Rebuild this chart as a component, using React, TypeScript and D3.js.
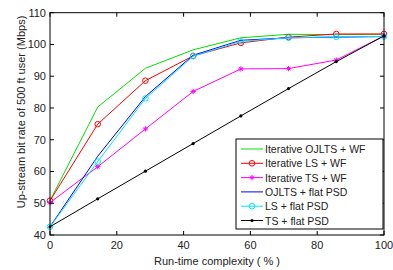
import * as d3 from 'd3';
import React, { useEffect, useRef } from 'react';

const complexity = [0, 14.29, 28.57, 42.86, 57.14, 71.43, 85.71, 100];
const ojltsWf = [50.8, 80.3, 92.5, 98.3, 102.1, 103.2, 103.1, 103.2];
const lsWf = [50.8, 74.9, 88.6, 96.4, 100.5, 102.3, 103.3, 103.3];
const tsWf = [50.2, 61.5, 73.4, 85.2, 92.3, 92.4, 95.1, 102.7];
const ojltsFlat = [42.6, 64.8, 83.6, 96.6, 101.3, 102.1, 102.3, 102.5];
const lsFlat = [42.6, 63.1, 83.0, 96.3, 101.0, 102.1, 102.4, 102.5];
const tsFlat = [42.6, 51.4, 60.1, 68.8, 77.5, 86.1, 94.6, 102.7];

const seriesNames = [
  'Iterative OJLTS + WF',
  'Iterative LS + WF',
  'Iterative TS + WF',
  'OJLTS + flat PSD',
  'LS + flat PSD',
  'TS + flat PSD',
];
const seriesColors = ['#00e000', '#ff0000', '#ff00ff', '#0000ff', '#00e5ff', '#000000'];
const seriesMarkers = ['none', 'circle', 'star', 'none', 'circle', 'dot'];
const xTicks = [0, 20, 40, 60, 80, 100];
const yTicks = [40, 50, 60, 70, 80, 90, 100, 110];

const allValues = [ojltsWf, lsWf, tsWf, ojltsFlat, lsFlat, tsFlat];

export default function App() {
  const ref = useRef<SVGSVGElement>(null);

  useEffect(() => {
    const svg = d3.select(ref.current);
    svg.selectAll('*').remove();

    const left = 50;
    const right = 384;
    const top = 12.7;
    const bottom = 235;
    const font = 'Liberation Sans, Arial, Helvetica, sans-serif';

    const x = d3.scaleLinear().domain([0, 100]).range([left, right]);
    const y = d3.scaleLinear().domain([40, 110]).range([bottom, top]);

    const line = d3
      .line<number>()
      .x((_, i) => x(complexity[i]))
      .y((d) => y(d));

    const drawMarker = (g: d3.Selection<SVGGElement, unknown, null, undefined>, kind: string, cx: number, cy: number, color: string) => {
      if (kind === 'circle') {
        g.append('circle').attr('cx', cx).attr('cy', cy).attr('r', 2.8).attr('fill', 'none').attr('stroke', color).attr('stroke-width', 1);
      } else if (kind === 'dot') {
        g.append('circle').attr('cx', cx).attr('cy', cy).attr('r', 1.6).attr('fill', color);
      } else if (kind === 'star') {
        const s = 2.6;
        const p = `M${cx - s},${cy}L${cx + s},${cy}M${cx},${cy - s}L${cx},${cy + s}M${cx - s * 0.7},${cy - s * 0.7}L${cx + s * 0.7},${cy + s * 0.7}M${cx - s * 0.7},${cy + s * 0.7}L${cx + s * 0.7},${cy - s * 0.7}`;
        g.append('path').attr('d', p).attr('stroke', color).attr('stroke-width', 1).attr('fill', 'none');
      }
    };

    // series lines
    const plot = svg.append('g');
    allValues.forEach((vals, si) => {
      plot
        .append('path')
        .datum(vals)
        .attr('d', line)
        .attr('fill', 'none')
        .attr('stroke', seriesColors[si])
        .attr('stroke-width', 1);
      vals.forEach((v, i) => drawMarker(plot, seriesMarkers[si], x(complexity[i]), y(v), seriesColors[si]));
    });

    // box + ticks
    const axes = svg.append('g').attr('stroke', '#000').attr('stroke-width', 1);
    axes
      .append('rect')
      .attr('x', left)
      .attr('y', top)
      .attr('width', right - left)
      .attr('height', bottom - top)
      .attr('fill', 'none');
    const tl = 4;
    xTicks.forEach((t) => {
      axes.append('line').attr('x1', x(t)).attr('x2', x(t)).attr('y1', bottom).attr('y2', bottom - tl);
      axes.append('line').attr('x1', x(t)).attr('x2', x(t)).attr('y1', top).attr('y2', top + tl);
    });
    yTicks.forEach((t) => {
      axes.append('line').attr('x1', left).attr('x2', left + tl).attr('y1', y(t)).attr('y2', y(t));
      axes.append('line').attr('x1', right).attr('x2', right - tl).attr('y1', y(t)).attr('y2', y(t));
    });

    const labels = svg.append('g').attr('font-family', font).attr('font-size', 11).attr('fill', '#222');
    xTicks.forEach((t) => {
      labels.append('text').attr('x', x(t)).attr('y', 249).attr('text-anchor', 'middle').text(t);
    });
    yTicks.forEach((t) => {
      labels.append('text').attr('x', 46).attr('y', y(t) + 4).attr('text-anchor', 'end').text(t);
    });
    labels.append('text').attr('x', 217).attr('y', 265).attr('text-anchor', 'middle').text('Run-time complexity ( % )');
    labels
      .append('text')
      .attr('transform', 'translate(25,112) rotate(-90)')
      .attr('text-anchor', 'middle')
      .text('Up-stream bit rate of 500 ft user (Mbps)');

    // legend
    const lg = svg.append('g');
    lg.append('rect')
      .attr('x', 236)
      .attr('y', 139)
      .attr('width', 147)
      .attr('height', 90)
      .attr('fill', '#fff')
      .attr('stroke', '#000')
      .attr('stroke-width', 1);
    seriesNames.forEach((name, i) => {
      const ly = 149 + i * 14.3;
      lg.append('line').attr('x1', 241).attr('x2', 263).attr('y1', ly).attr('y2', ly).attr('stroke', seriesColors[i]).attr('stroke-width', 1);
      drawMarker(lg, seriesMarkers[i], 252, ly, seriesColors[i]);
      lg.append('text')
        .attr('x', 265)
        .attr('y', ly + 4)
        .attr('font-family', font)
        .attr('font-size', 10.5)
        .attr('fill', '#222')
        .text(name);
    });

    return () => {
      svg.selectAll('*').remove();
    };
  }, []);

  return (
    <svg ref={ref} width={393} height={270} style={{ position: 'absolute', left: 0, top: 0, background: '#fff' }} />
  );
}
